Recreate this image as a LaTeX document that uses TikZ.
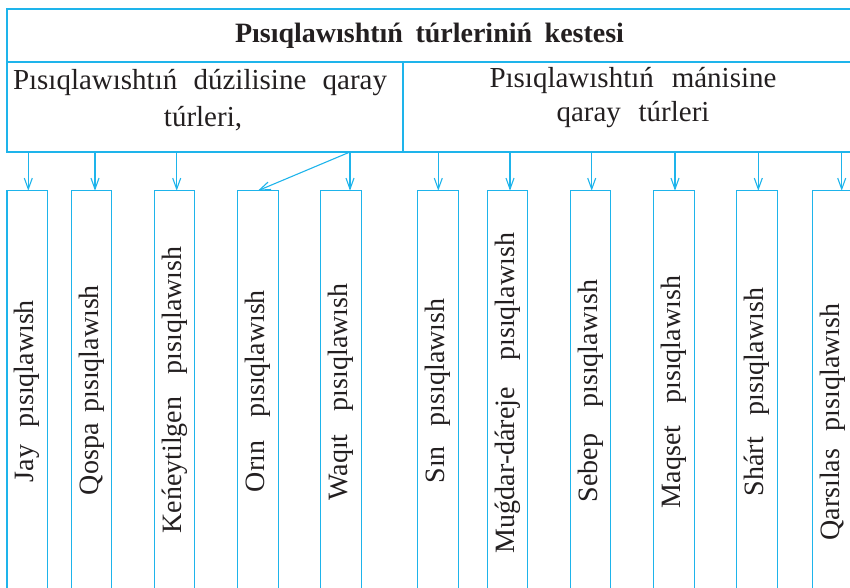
\documentclass[tikz,border=0pt]{standalone}
\usepackage{fontspec}
\setmainfont{Liberation Serif}
\usetikzlibrary{arrows.meta}
\definecolor{ln}{RGB}{30,180,235}
\definecolor{tx}{RGB}{35,31,32}
\begin{document}
\begin{tikzpicture}[x=1pt,y=-1pt,
  cell/.style={draw=ln, line width=1.2pt, rectangle, inner sep=0pt, outer sep=0pt, anchor=north west},
  vbox/.style={cell, minimum width=40.4pt, minimum height=420pt},
  arr/.style={draw=ln, line width=1.1pt, -{Straight Barb[length=11pt,width=8pt]}},
  txt/.style={text=tx, inner sep=0pt, font=\fontsize{28}{30}\selectfont},
  htxt/.style={txt, anchor=base, font=\fontsize{29}{32}\selectfont},
  lab/.style={txt, rotate=90}]
\useasboundingbox (0,0) rectangle (850,588);
\clip (0,0) rectangle (850,588);
% header and second row
\node[cell, minimum width=845pt, minimum height=53pt] (head) at (7,9) {};
\node[cell, minimum width=396pt, minimum height=90pt] (lc) at (7,62) {};
\node[cell, minimum width=449pt, minimum height=90pt] (rc) at (403,62) {};
\node[txt, anchor=base, font=\fontsize{28}{30}\selectfont\bfseries] (title) at (429.5,42.7) {\makebox[389pt][s]{Pısıqlawıshtıń túrleriniń kestesi}};
\node[htxt] (l1) at (200,90) {\makebox[374pt][s]{Pısıqlawıshtıń dúzilisine qaray}};
\node[htxt] (l2) at (203,126.5) {túrleri,};
\node[htxt] (r1) at (633,88) {\makebox[287pt][s]{Pısıqlawıshtıń mánisine}};
\node[htxt] (r2) at (633,121.7) {\makebox[153pt][s]{qaray túrleri}};
% vertical boxes
\node[vbox] (b1) at (7,190.7) {};
\node[vbox] (b2) at (71.3,190.7) {};
\node[vbox] (b3) at (154.3,190.7) {};
\node[vbox] (b4) at (237.7,190.7) {};
\node[vbox] (b5) at (320.7,190.7) {};
\node[vbox] (b6) at (417.7,190.7) {};
\node[vbox] (b7) at (487.3,190.7) {};
\node[vbox] (b8) at (570.3,190.7) {};
\node[vbox] (b9) at (653.7,190.7) {};
\node[vbox] (b10) at (736.7,190.7) {};
\node[vbox] (b11) at (812.3,190.7) {};
% labels
\node[lab] (t1) at (27.2,391) {\makebox[182pt][s]{Jay pısıqlawısh}};
\node[lab] (t2) at (91.5,390) {\makebox[210pt][s]{Qospa pısıqlawısh}};
\node[lab] (t3) at (174.5,390) {\makebox[287pt][s]{Keńeytilgen pısıqlawısh}};
\node[lab] (t4) at (257.9,391) {\makebox[202pt][s]{Orın pısıqlawısh}};
\node[lab] (t5) at (340.9,392) {\makebox[217pt][s]{Waqıt pısıqlawısh}};
\node[lab] (t6) at (437.9,391) {\makebox[185pt][s]{Sın pısıqlawısh}};
\node[lab] (t7) at (507.5,393) {\makebox[320pt][s]{Muǵdar-dáreje pısıqlawısh}};
\node[lab] (t8) at (590.5,391) {\makebox[222pt][s]{Sebep pısıqlawısh}};
\node[lab] (t9) at (673.9,392) {\makebox[232pt][s]{Maqset pısıqlawısh}};
\node[lab] (t10) at (756.9,392) {\makebox[208pt][s]{Shárt pısıqlawısh}};
\node[lab] (t11) at (832.5,422) {\makebox[237pt][s]{Qarsılas pısıqlawısh}};
% arrow starts
\coordinate (s1) at (28.3,152);
\coordinate (s2) at (95,152);
\coordinate (s3) at (176.7,152);
\coordinate (s4) at (350,152);
\coordinate (s6) at (438.3,152);
\coordinate (s7) at (510,152);
\coordinate (s8) at (591.7,152);
\coordinate (s9) at (675,152);
\coordinate (s10) at (758.3,152);
\coordinate (s11) at (841.7,152);
% arrows
\draw[arr] (s1) -- (s1 |- b1.north);
\draw[arr] (s2) -- (s2 |- b2.north);
\draw[arr] (s3) -- (s3 |- b3.north);
\draw[arr] (s4) -- (b4.north);
\draw[arr] (s4) -- (s4 |- b5.north);
\draw[arr] (s6) -- (s6 |- b6.north);
\draw[arr] (s7) -- (s7 |- b7.north);
\draw[arr] (s8) -- (s8 |- b8.north);
\draw[arr] (s9) -- (s9 |- b9.north);
\draw[arr] (s10) -- (s10 |- b10.north);
\draw[arr] (s11) -- (s11 |- b11.north);
\end{tikzpicture}
\end{document}
